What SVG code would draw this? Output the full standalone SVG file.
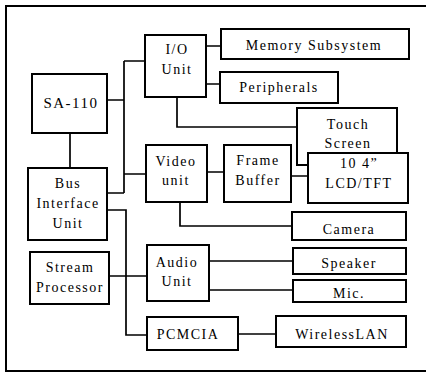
<svg xmlns="http://www.w3.org/2000/svg" width="426" height="374" viewBox="0 0 426 374">
<style>
.b{fill:#fff;stroke:#000;stroke-width:2}
.c{fill:none;stroke:#000;stroke-width:1.7}
text{font-family:"Liberation Serif","Times New Roman",serif;font-size:14px;letter-spacing:1.5px;text-anchor:middle;fill:#000}
</style>
<rect width="426" height="374" fill="#fff"/>
<path d="M6,372 V6 H430 M6,371 H430" fill="none" stroke="#000" stroke-width="2"/>
<g id="connectors" class="c">
<path d="M107,100 H124 M124,61 V193 M124,61 H145 M124,174 H146 M107,193 H124"/>
<path d="M70,133 V168"/>
<path d="M107,210 H126 V335 H147"/>
<path d="M109,276 H147"/>
<path d="M206,46 H221 M206,84 H220"/>
<path d="M177,97 V127 H297"/>
<path d="M207,172 H224 M291,176 H308"/>
<path d="M180,202 V226 H292"/>
<path d="M209,261 H293 M209,290 H293"/>
<path d="M238,334 H276"/>
</g>
<g id="sa110"><rect class="b" x="32" y="74" width="75" height="59"/><text x="71" y="108" style="font-size:15px">SA-110</text></g>
<g id="bus"><rect class="b" x="28" y="168" width="79" height="72"/><text x="68" y="188">Bus</text><text x="68" y="208">Interface</text><text x="68" y="228">Unit</text></g>
<g id="stream"><rect class="b" x="30" y="252" width="79" height="52"/><text x="70" y="272">Stream</text><text x="70" y="292">Processor</text></g>
<g id="io"><rect class="b" x="145" y="35" width="61" height="62"/><text x="177" y="54">I/O</text><text x="177" y="74">Unit</text></g>
<g id="video"><rect class="b" x="146" y="145" width="61" height="57"/><text x="176" y="166">Video</text><text x="176" y="185">unit</text></g>
<g id="frame"><rect class="b" x="224" y="145" width="67" height="57"/><text x="258" y="165">Frame</text><text x="258" y="185">Buffer</text></g>
<g id="audio"><rect class="b" x="147" y="245" width="62" height="56"/><text x="177" y="267">Audio</text><text x="177" y="286">Unit</text></g>
<g id="pcmcia"><rect class="b" x="147" y="317" width="91" height="33"/><text x="188" y="339">PCMCIA</text></g>
<g id="memory"><rect class="b" x="221" y="29" width="188" height="30"/><text x="314" y="50">Memory Subsystem</text></g>
<g id="peripherals"><rect class="b" x="220" y="72" width="118" height="31"/><text x="279" y="92">Peripherals</text></g>
<g id="touch"><rect class="b" x="297" y="108" width="100" height="57"/><text x="348" y="129">Touch</text><text x="348" y="148">Screen</text></g>
<g id="lcd"><rect class="b" x="308" y="153" width="100" height="50"/><text x="359" y="168">10 4”</text><text x="359" y="188">LCD/TFT</text></g>
<g id="camera"><rect class="b" x="292" y="212" width="114" height="28"/><text x="349" y="234">Camera</text></g>
<g id="speaker"><rect class="b" x="293" y="248" width="113" height="26"/><text x="349" y="268">Speaker</text></g>
<g id="mic"><rect class="b" x="293" y="280" width="113" height="22"/><text x="349" y="298">Mic.</text></g>
<g id="wireless"><rect class="b" x="276" y="316" width="130" height="31"/><text x="342" y="339">WirelessLAN</text></g>
</svg>
